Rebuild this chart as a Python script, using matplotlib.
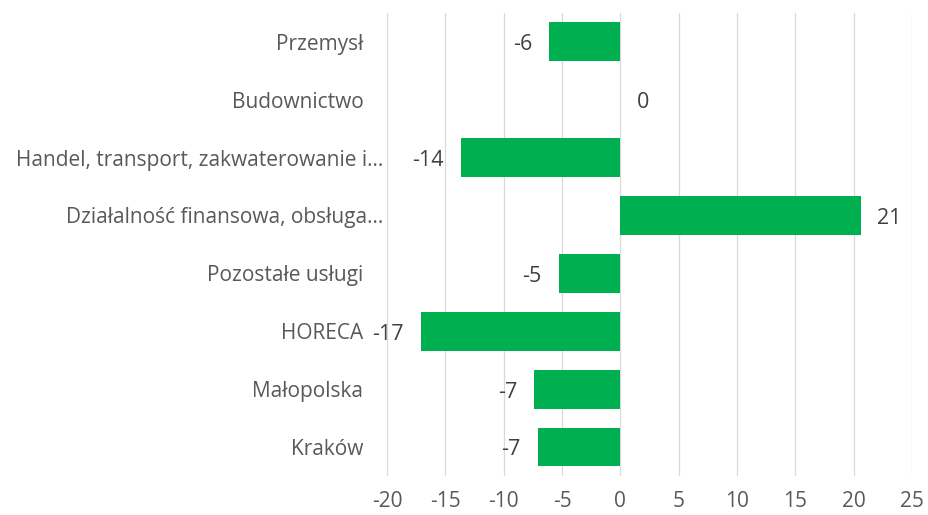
import matplotlib
matplotlib.use("Agg")
import matplotlib.pyplot as plt
from matplotlib.transforms import ScaledTranslation

categories = ["Przemysł", "Budownictwo", "Handel, transport, zakwaterowanie i…",
              "Działalność finansowa, obsługa…", "Pozostałe usługi", "HORECA",
              "Małopolska", "Kraków"]
values = [-6.1, 0.0, -13.7, 20.6, -5.3, -17.1, -7.4, -7.1]
labels = ["-6", "0", "-14", "21", "-5", "-17", "-7", "-7"]
xticks = [-20, -15, -10, -5, 0, 5, 10, 15, 20, 25]

plt.rcParams['font.family'] = ['Open Sans', 'DejaVu Sans']

fig = plt.figure(figsize=(9.29, 5.15), dpi=100)
ax = fig.add_axes([0.4166, 0.0757, 0.5651, 0.8993])

pos = list(range(len(categories)))
ax.barh(pos, values, height=0.67, color="#00B050", zorder=2)

for p, v, t in zip(pos, values, labels):
    if v < 0:
        ax.annotate(t, (v, p), xytext=(-12, -6), textcoords="offset points",
                    ha="right", va="baseline", fontsize=15.5, color="#404040")
    else:
        ax.annotate(t, (v, p), xytext=(12, -6), textcoords="offset points",
                    ha="left", va="baseline", fontsize=15.5, color="#404040")

ax.set_xlim(-20, 25)
ax.set_ylim(len(categories) - 0.5, -0.5)
ax.set_xticks(xticks)
ax.set_xticklabels([str(x) for x in xticks])
ax.set_yticks(pos)
ax.set_yticklabels(categories)
ax.tick_params(axis="both", length=0, colors="#595959")
ax.tick_params(axis="x", labelsize=15, pad=11)
ax.tick_params(axis="y", labelsize=15, pad=17)
ax.grid(axis="x", color="#D9D9D9", linewidth=0.9, zorder=0)
for s in ax.spines.values():
    s.set_visible(False)

# truncated labels sit closer to the axis, like in the original
for lab in ax.get_yticklabels():
    if lab.get_text().endswith("…"):
        lab.set_transform(lab.get_transform() + ScaledTranslation(14 / 72, 0, fig.dpi_scale_trans))

fig.savefig("out.png", dpi=100)
